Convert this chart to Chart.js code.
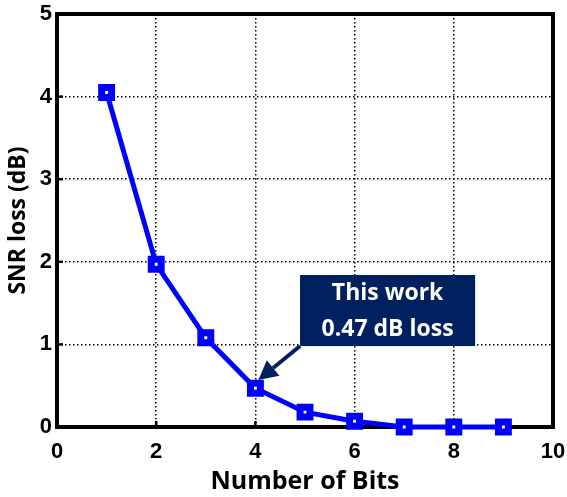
<!DOCTYPE html>
<html>
<head>
<meta charset="utf-8">
<script src="https://cdn.jsdelivr.net/npm/chart.js@4.4.1/dist/chart.umd.min.js"></script>
<style>
  html, body { margin: 0; padding: 0; background: #fff; }
  #wrap { width: 567px; height: 497px; }
</style>
</head>
<body>
<div id="wrap"><canvas id="snrChart" width="567" height="497"></canvas></div>
<script>
// SNR loss versus quantiser bit count
const bits = [1, 2, 3, 4, 5, 6, 7, 8, 9]
const snrLoss = [4.05, 1.97, 1.08, 0.47, 0.18, 0.07, 0.0, 0.0, 0.0]
const xTicks = [0, 2, 4, 6, 8, 10]
const yTicks = [0, 1, 2, 3, 4, 5]

// callout for the 4-bit design
const calloutLines = ['This work', '0.47 dB loss']
const calloutBox = { x0: 4.9, x1: 8.43, y0: 1.84, y1: 0.98 }
const calloutArrow = { fromX: 4.9, fromY: 0.98, toX: 4.06, toY: 0.57 }

const NAVY = '#002060'

// black frame around the plot plus small inward tick marks
const framePlugin = {
  id: 'frame',
  beforeDatasetsDraw( chart ) {
    const { ctx, chartArea: a, scales } = chart
    ctx.save()
    ctx.strokeStyle = '#000'
    ctx.lineWidth = 2.5
    xTicks.forEach( ( t ) => {
      const px = scales.x.getPixelForValue( t )
      ctx.beginPath()
      ctx.moveTo( px, a.bottom ); ctx.lineTo( px, a.bottom - 6 )
      ctx.stroke()
    } )
    yTicks.forEach( ( t ) => {
      const py = scales.y.getPixelForValue( t )
      ctx.beginPath()
      ctx.moveTo( a.left, py ); ctx.lineTo( a.left + 6, py )
      ctx.stroke()
    } )
    ctx.lineWidth = 4
    ctx.strokeRect( a.left, a.top, a.right - a.left, a.bottom - a.top )
    ctx.restore()
  }
}

const calloutPlugin = {
  id: 'callout',
  afterDatasetsDraw( chart ) {
    const { ctx, scales } = chart
    const x = scales.x, y = scales.y
    const bx0 = x.getPixelForValue( calloutBox.x0 )
    const bx1 = x.getPixelForValue( calloutBox.x1 )
    const by0 = y.getPixelForValue( calloutBox.y0 )
    const by1 = y.getPixelForValue( calloutBox.y1 )

    ctx.save()
    ctx.fillStyle = NAVY
    ctx.fillRect( bx0, by0, bx1 - bx0, by1 - by0 )

    // arrow from box corner to the point
    const fx = x.getPixelForValue( calloutArrow.fromX )
    const fy = y.getPixelForValue( calloutArrow.fromY )
    const tx = x.getPixelForValue( calloutArrow.toX )
    const ty = y.getPixelForValue( calloutArrow.toY )
    const ang = Math.atan2( ty - fy, tx - fx )
    const head = 19, half = 10
    const baseX = tx - head * Math.cos( ang ), baseY = ty - head * Math.sin( ang )
    ctx.strokeStyle = NAVY
    ctx.lineWidth = 4
    ctx.beginPath()
    ctx.moveTo( fx, fy ); ctx.lineTo( baseX, baseY )
    ctx.stroke()
    ctx.beginPath()
    ctx.moveTo( tx, ty )
    ctx.lineTo( baseX + half * Math.sin( ang ), baseY - half * Math.cos( ang ) )
    ctx.lineTo( baseX - half * Math.sin( ang ), baseY + half * Math.cos( ang ) )
    ctx.closePath()
    ctx.fillStyle = NAVY
    ctx.fill()

    ctx.fillStyle = '#fff'
    ctx.font = 'bold 23px "Open Sans"'
    ctx.textAlign = 'center'
    ctx.textBaseline = 'middle'
    const cx = ( bx0 + bx1 ) / 2
    const lh = ( by1 - by0 ) / 2
    calloutLines.forEach( ( line, i ) => {
      ctx.fillText( line, cx, by0 + lh * ( i + 0.5 ) + 1 )
    } )
    ctx.restore()
  }
}

const tickFont = { family: '"Liberation Sans"', size: 22, weight: 'bold' }
const titleFont = { family: '"Open Sans"', size: 25, weight: 'bold' }

new Chart( document.getElementById( 'snrChart' ), {
  type: 'line',
  data: {
    datasets: [ {
      data: bits.map( ( b, i ) => ( { x: b, y: snrLoss[ i ] } ) ),
      borderColor: '#0000ff',
      borderWidth: 5,
      pointStyle: 'rect',
      pointRadius: 7,
      pointBorderWidth: 7,
      pointBorderColor: '#0000ff',
      pointBackgroundColor: '#fff',
      tension: 0,
      clip: false
    } ]
  },
  options: {
    responsive: false,
    animation: false,
    layout: { padding: { top: 13, right: 12, left: 0, bottom: 0 } },
    plugins: { legend: { display: false }, tooltip: { enabled: false } },
    scales: {
      x: {
        type: 'linear',
        min: 0,
        max: 10,
        afterBuildTicks( axis ) { axis.ticks = xTicks.map( ( v ) => ( { value: v } ) ) },
        afterFit( axis ) {
          axis.height = 70
          // let the end labels hang past the frame instead of shrinking it
          axis.paddingLeft = 0
          axis.paddingRight = 0
        },
        ticks: { color: '#000', font: tickFont, padding: 12 },
        grid: { color: '#000', lineWidth: 1.5, drawTicks: false },
        border: { display: false, dash: [ 1.5, 2.5 ] },
        title: { display: true, text: 'Number of Bits', color: '#000', font: titleFont, padding: { top: 0, bottom: 0 } }
      },
      y: {
        min: 0,
        max: 5,
        afterBuildTicks( axis ) { axis.ticks = yTicks.map( ( v ) => ( { value: v } ) ) },
        afterFit( axis ) {
          axis.width = 57
          axis.paddingTop = 0
          axis.paddingBottom = 0
        },
        ticks: { color: '#000', font: tickFont, padding: 5 },
        grid: { color: '#000', lineWidth: 1.5, drawTicks: false },
        border: { display: false, dash: [ 1.5, 2.5 ] },
        title: { display: true, text: 'SNR loss (dB)', color: '#000', font: { family: '"Open Sans"', size: 23, weight: 'bold' }, padding: { top: 5, bottom: 0 } }
      }
    }
  },
  plugins: [ framePlugin, calloutPlugin ]
} )
</script>
</body>
</html>
